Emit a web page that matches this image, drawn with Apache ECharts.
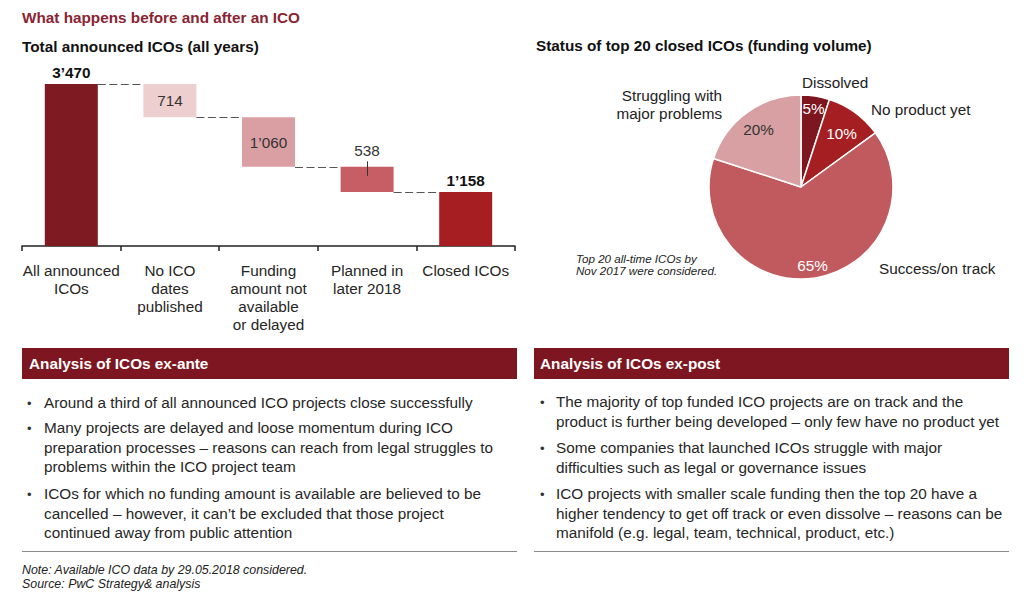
<!DOCTYPE html>
<html><head><meta charset="utf-8">
<script src="https://cdn.jsdelivr.net/npm/echarts@6/dist/echarts.min.js"></script>
<style>html,body{margin:0;padding:0;background:#fff}#c{width:1024px;height:596px}</style>
</head><body><div id="c"></div>
<script>
// ---------- data ----------
const categories = ['All announced\nICOs', 'No ICO\ndates\npublished', 'Funding\namount not\navailable\nor delayed', 'Planned in\nlater 2018', 'Closed ICOs'];
const stepValues = [3470, 714, 1060, 538, 1158];
const stepKinds = ['total', 'decrease', 'decrease', 'decrease', 'total'];
const stepLabels = ['3’470', '714', '1’060', '538', '1’158'];

const pieNames = ['Dissolved', 'No product yet', 'Success/on track', 'Struggling with\nmajor problems'];
const pieValues = [5, 10, 65, 20];
const pieLabels = ['5%', '10%', '65%', '20%'];

const mainTitle = 'What happens before and after an ICO';
const leftTitle = 'Total announced ICOs (all years)';
const rightTitle = 'Status of top 20 closed ICOs (funding volume)';
const pieNote = ['Top 20 all-time ICOs by', 'Nov 2017 were considered.'];
const leftHeader = 'Analysis of ICOs ex-ante';
const rightHeader = 'Analysis of ICOs ex-post';
const leftBullets = [
  'Around a third of all announced ICO projects close successfully',
  'Many projects are delayed and loose momentum during ICO\npreparation processes – reasons can reach from legal struggles to\nproblems within the ICO project team',
  'ICOs for which no funding amount is available are believed to be\ncancelled – however, it can’t be excluded that those project\ncontinued away from public attention'
];
const rightBullets = [
  'The majority of top funded ICO projects are on track and the\nproduct is further being developed – only few have no product yet',
  'Some companies that launched ICOs struggle with major\ndifficulties such as legal or governance issues',
  'ICO projects with smaller scale funding then the top 20 have a\nhigher tendency to get off track or even dissolve – reasons can be\nmanifold (e.g. legal, team, technical, product, etc.)'
];
const footNote = 'Note: Available ICO data by 29.05.2018 considered.\nSource: PwC Strategy& analysis';

// ---------- derived ----------
const bases = [];
const levels = [];
let running = 0;
stepValues.forEach((v, i) => {
  if (stepKinds[i] === 'total') { bases.push(0); running = v; }
  else { running -= v; bases.push(running); }
  levels.push(running);
});
const connectors = levels.slice(0, -1).map((l, i) => [i, l]);

// ---------- styles ----------
const FONT = '"Liberation Sans", Arial, Helvetica, sans-serif';
const FS = 15.3;
const barColors = ['#7e1a22', '#edcfd0', '#da9fa3', '#c85e65', '#a61e22'];
const pieColors = ['#7e1620', '#a51e22', '#c05a5f', '#d8a0a2'];
const pieInnerColors = ['#fff', '#fff', '#fff', '#333'];
const BAR_W = 53;
const PIE_C = [801, 187], PIE_R = 92;

function txt(text, x, y, st) {
  return { type: 'text', x: x, y: y, silent: true,
    style: Object.assign({ text: text, fontFamily: FONT, fontSize: FS, fill: '#222', align: 'left', verticalAlign: 'middle' }, st || {}) };
}
function bullets(list, bx, tx, centers, lh) {
  const out = [];
  list.forEach((t, i) => {
    out.push(txt('•', bx, centers[i], { fontSize: 13, fill: '#333' }));
    out.push(txt(t, tx, centers[i] - lh / 2, { verticalAlign: 'top', lineHeight: lh, fill: '#262626' }));
  });
  return out;
}

const graphics = [
  txt(mainTitle, 22, 17, { fontWeight: 'bold', fill: '#8a2432' }),
  txt(leftTitle, 22, 46, { fontWeight: 'bold', fill: '#111' }),
  txt(rightTitle, 536, 45, { fontWeight: 'bold', fill: '#111' }),
  txt(pieNote[0], 576, 258.5, { fontStyle: 'italic', fontSize: 11.6, fill: '#222' }),
  txt(pieNote[1], 576, 270.5, { fontStyle: 'italic', fontSize: 11.6, fill: '#222' }),
  { type: 'rect', silent: true, shape: { x: 22, y: 348, width: 495, height: 31 }, style: { fill: '#7e1621' } },
  { type: 'rect', silent: true, shape: { x: 534, y: 348, width: 475, height: 31 }, style: { fill: '#7e1621' } },
  txt(leftHeader, 29, 363.5, { fontWeight: 'bold', fill: '#fff' }),
  txt(rightHeader, 540, 363.5, { fontWeight: 'bold', fill: '#fff' }),
  { type: 'line', silent: true, shape: { x1: 22, y1: 551.5, x2: 517, y2: 551.5 }, style: { stroke: '#888', lineWidth: 1 } },
  { type: 'line', silent: true, shape: { x1: 534, y1: 551.5, x2: 1009, y2: 551.5 }, style: { stroke: '#888', lineWidth: 1 } },
  txt(footNote, 22, 563, { fontStyle: 'italic', fontSize: 12.4, lineHeight: 14, verticalAlign: 'top', fill: '#222' })
].concat(
  bullets(leftBullets, 27, 44, [403, 428, 494], 19.3),
  bullets(rightBullets, 540, 556, [402, 448, 494], 19.3)
);

const barLabelCfg = [
  { position: 'top', distance: 4, fontWeight: 'bold', color: '#111' },
  { position: 'inside', color: '#333' },
  { position: 'inside', color: '#333' },
  { position: 'top', distance: 9, color: '#333' },
  { position: 'top', distance: 4, fontWeight: 'bold', color: '#111' }
];
const innerNudge = [[1, -5], [-3, 6], [0, 5], [1, 2]];
const outerNudge = [[-20, -4], [5, 5.5], [57, -19], [-14, 0.5]];

const chart = echarts.init(document.getElementById('c'), null, { renderer: 'svg' });
chart.setOption({
  animation: false,
  textStyle: { fontFamily: FONT },
  graphic: graphics,
  grid: { left: 22, right: 509, top: 84, bottom: 350, containLabel: false, outerBoundsMode: 'none' },
  xAxis: {
    type: 'category', data: categories,
    axisLine: { lineStyle: { color: '#222', width: 1.5 } },
    axisTick: { show: true, length: 5, lineStyle: { color: '#222', width: 1.5 } },
    axisLabel: { color: '#262626', fontSize: FS, lineHeight: 18, margin: 15, interval: 0 },
    splitLine: { show: false }
  },
  yAxis: { type: 'value', min: 0, max: stepValues[0], show: false },
  series: [
    { type: 'bar', stack: 'w', data: bases, barWidth: BAR_W, silent: true,
      itemStyle: { color: 'rgba(0,0,0,0)' }, emphasis: { disabled: true } },
    { type: 'bar', stack: 'w', barWidth: BAR_W, silent: true, emphasis: { disabled: true },
      data: stepValues.map((v, i) => ({ value: v, itemStyle: { color: barColors[i] },
        label: Object.assign({ show: true, fontSize: FS, formatter: () => stepLabels[i] }, barLabelCfg[i]) })) },
    { type: 'custom', silent: true, data: connectors, z: 3,
      renderItem: function (params, api) {
        const i = api.value(0), l = api.value(1);
        const p0 = api.coord([i, l]), p1 = api.coord([i + 1, l]);
        const y = Math.round(p0[1]) + 0.5;
        return { type: 'line', shape: { x1: p0[0] + BAR_W / 2, y1: y, x2: p1[0] - BAR_W / 2, y2: y },
          style: { stroke: '#555', lineWidth: 1, lineDash: [8, 3.5], fill: null } };
      } },
    { type: 'custom', silent: true, data: [[3, bases[3] + stepValues[3]]], z: 4,
      renderItem: function (params, api) {
        const p = api.coord([api.value(0), api.value(1)]);
        const x = Math.round(p[0]) + 0.5;
        return { type: 'line', shape: { x1: x, y1: p[1] - 5.5, x2: x, y2: p[1] + 9 },
          style: { stroke: '#333', lineWidth: 1 } };
      } },
    { type: 'pie', center: PIE_C, radius: [0, PIE_R], startAngle: 90, clockwise: true, silent: true,
      emphasis: { disabled: true },
      data: pieValues.map((v, i) => ({ name: pieNames[i], value: v, itemStyle: { color: pieColors[i] } })),
      itemStyle: { borderColor: '#fff', borderWidth: 1.5 },
      label: { show: false }, labelLine: { show: false } },
    { type: 'pie', center: PIE_C, radius: [50, PIE_R], startAngle: 90, clockwise: true, silent: true,
      emphasis: { disabled: true }, avoidLabelOverlap: false, z: 5,
      data: pieValues.map((v, i) => ({ name: pieNames[i], value: v,
        label: { color: pieInnerColors[i] } })),
      itemStyle: { color: 'rgba(0,0,0,0)', borderWidth: 0 },
      label: { show: true, position: 'inside', fontSize: FS, formatter: p => pieLabels[p.dataIndex] },
      labelLine: { show: false },
      labelLayout: p => ({ dx: innerNudge[p.dataIndex][0], dy: innerNudge[p.dataIndex][1] }) },
    { type: 'pie', center: PIE_C, radius: [0, PIE_R], startAngle: 90, clockwise: true, silent: true,
      emphasis: { disabled: true }, avoidLabelOverlap: false, z: 5,
      data: pieValues.map((v, i) => ({ name: pieNames[i], value: v })),
      itemStyle: { color: 'rgba(0,0,0,0)', borderWidth: 0 },
      label: { show: true, position: 'outside', fontSize: FS, color: '#222', lineHeight: 18, distanceToLabelLine: 5,
        formatter: p => pieNames[p.dataIndex] },
      labelLine: { show: false, length: 10, length2: 0 },
      labelLayout: p => ({ dx: outerNudge[p.dataIndex][0], dy: outerNudge[p.dataIndex][1] }) }
  ]
});
</script>
</body></html>
